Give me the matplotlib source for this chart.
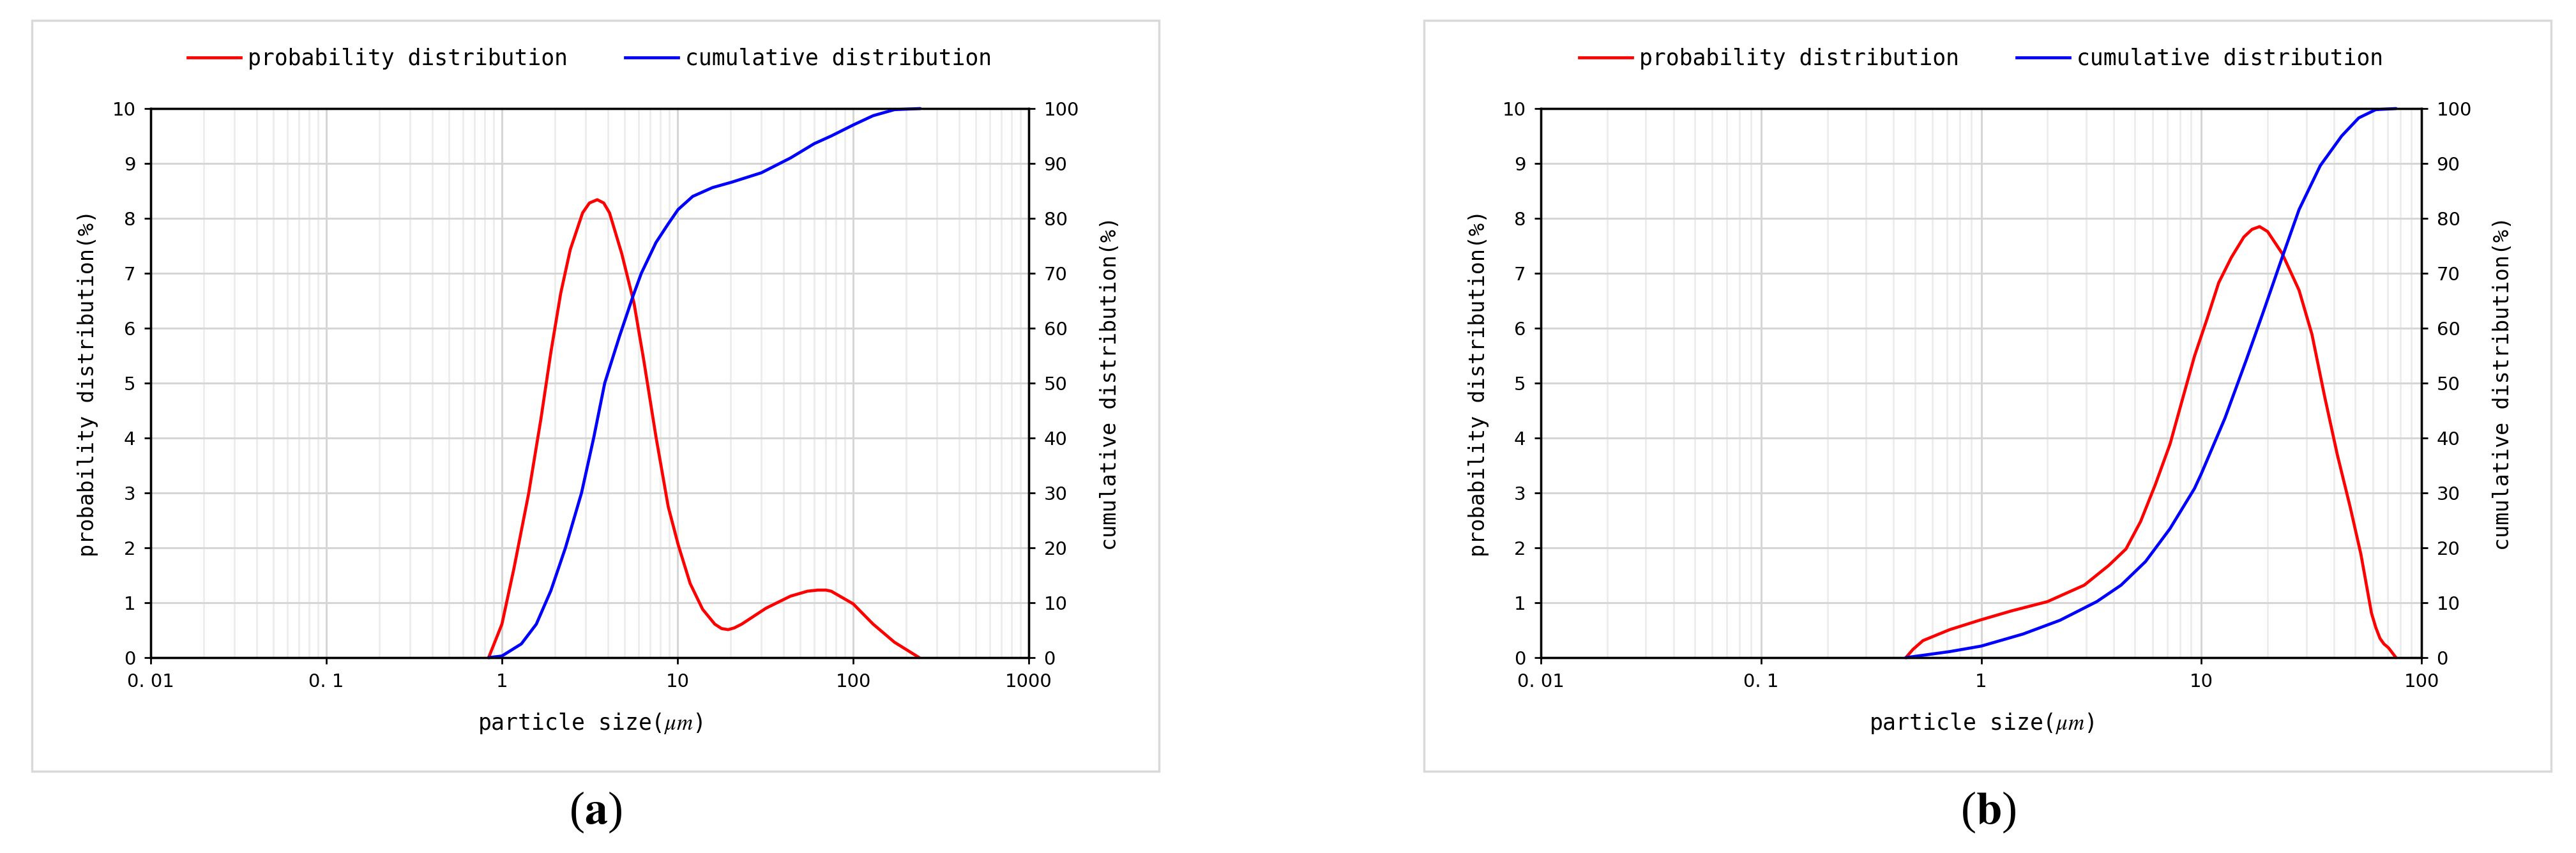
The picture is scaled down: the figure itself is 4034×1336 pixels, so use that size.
import numpy as np
import matplotlib
matplotlib.use('Agg')
import matplotlib.pyplot as plt
from matplotlib.patches import Rectangle
from matplotlib.lines import Line2D
from matplotlib.ticker import LogLocator, NullFormatter

# panel (a) data
a_prob_size = [0.84, 1.0, 1.17, 1.42, 1.67, 1.90, 2.16, 2.45, 2.88, 3.15, 3.49, 3.8, 4.10,
               4.81, 5.65, 6.42, 7.54, 8.85, 10.1, 11.8, 13.9, 16.3, 17.8, 19.4, 21, 23.2,
               31.9, 44, 55, 63, 70, 75, 100, 130, 172, 238]
a_prob_val = [0, 0.61, 1.62, 2.99, 4.36, 5.56, 6.63, 7.43, 8.10, 8.28, 8.34, 8.28, 8.10,
              7.36, 6.46, 5.42, 4.02, 2.75, 2.05, 1.35, 0.88, 0.61, 0.53, 0.51, 0.54, 0.61,
              0.90, 1.12, 1.21, 1.23, 1.23, 1.21, 0.98, 0.61, 0.28, 0]
a_cum_size = [0.84, 1.0, 1.29, 1.57, 1.90, 2.30, 2.84, 3.33, 3.85, 4.67, 5.6, 6.22,
              7.54, 8.85, 10.07, 12.2, 15.8, 20.4, 30, 44, 60, 75, 100, 130, 172, 241]
a_cum_val = [0, 0.3, 2.5, 6.1, 12.2, 20, 30, 40, 50, 58.5, 66, 70,
             75.6, 79, 81.6, 84.0, 85.6, 86.6, 88.3, 91.0, 93.6, 95.0, 97.0, 98.7, 99.8, 100]
a_xticks = [0.01, 0.1, 1, 10, 100, 1000]
a_xlabels = ['0. 01', '0. 1', '1', '10', '100', '1000']

# panel (b) data
b_prob_size = [0.455, 0.49, 0.544, 0.72, 1.0, 1.37, 2.0, 2.94, 3.80, 4.55, 5.30, 6.18, 7.21,
               8.19, 9.31, 10.6, 12.0, 13.7, 15.6, 17, 18.4, 20, 23.3, 27.8, 31.8, 36.3,
               41.5, 47.4, 53.1, 59.3, 62, 64.8, 67.5, 70.8, 76.6]
b_prob_val = [0, 0.15, 0.31, 0.51, 0.69, 0.85, 1.02, 1.32, 1.68, 1.98, 2.48, 3.15, 3.89,
              4.69, 5.49, 6.16, 6.83, 7.29, 7.66, 7.80, 7.85, 7.76, 7.36, 6.69, 5.89, 4.76,
              3.69, 2.75, 1.88, 0.81, 0.55, 0.35, 0.25, 0.18, 0]
b_cum_size = [0.455, 0.72, 1.0, 1.55, 2.28, 3.35, 4.32, 5.58, 7.21, 9.31, 10, 12.8, 16,
              19.1, 23.3, 27.8, 34.7, 43.4, 51.9, 62, 76.6]
b_cum_val = [0, 1.1, 2.1, 4.3, 6.8, 10.2, 13.2, 17.5, 23.5, 30.8, 33.5, 43.6, 54.2,
             62.9, 72.9, 81.6, 89.6, 95, 98.3, 99.8, 100]
b_xticks = [0.01, 0.1, 1, 10, 100]
b_xlabels = ['0. 01', '0. 1', '1', '10', '100']

left_ticks = list(range(0, 11))
right_ticks = list(range(0, 101, 10))
series_names = ['probability distribution', 'cumulative distribution']

plt.rcParams['mathtext.fontset'] = 'stix'
MONO = 'DejaVu Sans Mono'

W, H = 4034, 1336
fig = plt.figure(figsize=(W / 100, H / 100), dpi=100)


def px_box(x0, y0, x1, y1):
    return [x0 / W, 1 - y1 / H, (x1 - x0) / W, (y1 - y0) / H]


def panel(box, frame, xticks, xlabels, psize, pval, csize, cval, tag, tag_x):
    # light grey frame round the whole panel
    fb = px_box(*frame)
    fig.add_artist(Rectangle((fb[0], fb[1]), fb[2], fb[3], transform=fig.transFigure,
                             fill=False, edgecolor='#d9d9d9', lw=2.5))

    ax = fig.add_axes(px_box(*box))
    ax.set_xscale('log')
    ax.set_xlim(xticks[0], xticks[-1])
    ax.set_ylim(0, 10)
    ax.set_xticks(xticks)
    ax.set_xticklabels(xlabels)
    ax.xaxis.set_minor_locator(LogLocator(base=10, subs=np.arange(2, 10), numticks=100))
    ax.xaxis.set_minor_formatter(NullFormatter())
    ax.set_yticks(left_ticks)
    ax.grid(True, which='major', color='#d6d6d6', lw=2.2)
    ax.grid(True, which='minor', axis='x', color='#ececec', lw=2.0)
    ax.set_axisbelow(True)
    ax.tick_params(which='major', direction='out', length=7, width=2.0,
                   labelsize=21, pad=10)
    ax.tick_params(which='minor', length=0)

    ax2 = ax.twinx()
    ax2.set_ylim(0, 100)
    ax2.set_yticks(right_ticks)
    ax2.tick_params(direction='out', length=7, width=2.0, labelsize=21, pad=10)

    for a in (ax, ax2):
        for s in a.spines.values():
            s.set_linewidth(2.4)
            s.set_color('black')

    ax.plot(psize, pval, color='#ff0000', lw=3.4, clip_on=False,
            solid_joinstyle='round', solid_capstyle='round')
    ax2.plot(csize, cval, color='#0000ff', lw=3.4, clip_on=False,
             solid_joinstyle='round', solid_capstyle='round')

    wpx = box[2] - box[0]
    hpx = box[3] - box[1]
    ax.set_ylabel('probability distribution(%)', family=MONO, fontsize=24)
    ax.yaxis.set_label_coords(-98 / wpx, 0.5)
    ax.yaxis.label.set_va('center')
    ax2.set_ylabel('cumulative distribution(%)', family=MONO, fontsize=24, rotation=90)
    ax2.yaxis.set_label_coords(1 + 127 / wpx, 0.5)
    ax2.yaxis.label.set_va('center')
    ax.set_xlabel(r'particle size($\mu m$)', family=MONO, fontsize=25)
    ax.xaxis.set_label_coords(0.5, -103 / hpx)
    ax.xaxis.label.set_va('center')

    handles = [Line2D([], [], color='#ff0000', lw=3.4),
               Line2D([], [], color='#0000ff', lw=3.4)]
    cx = (box[0] + box[2]) / 2 / W
    fig.legend(handles, series_names, loc='center', bbox_to_anchor=(cx, 1 - 92 / H),
               ncol=2, frameon=False, prop={'family': MONO, 'size': 25},
               handlelength=2.4, handletextpad=0.3, columnspacing=2.6)

    fig.text(tag_x / W, 1 - 1272 / H, r'($\mathbf{' + tag + '}$)',
             family='Liberation Serif', fontsize=52, ha='center', va='center')


panel((236, 170, 1611, 1030), (50, 32, 1815, 1208), a_xticks, a_xlabels,
      a_prob_size, a_prob_val, a_cum_size, a_cum_val, 'a', 933)
panel((2413, 170, 3792, 1030), (2230, 32, 3995, 1208), b_xticks, b_xlabels,
      b_prob_size, b_prob_val, b_cum_size, b_cum_val, 'b', 3114)

fig.savefig('out.png', dpi=100)
